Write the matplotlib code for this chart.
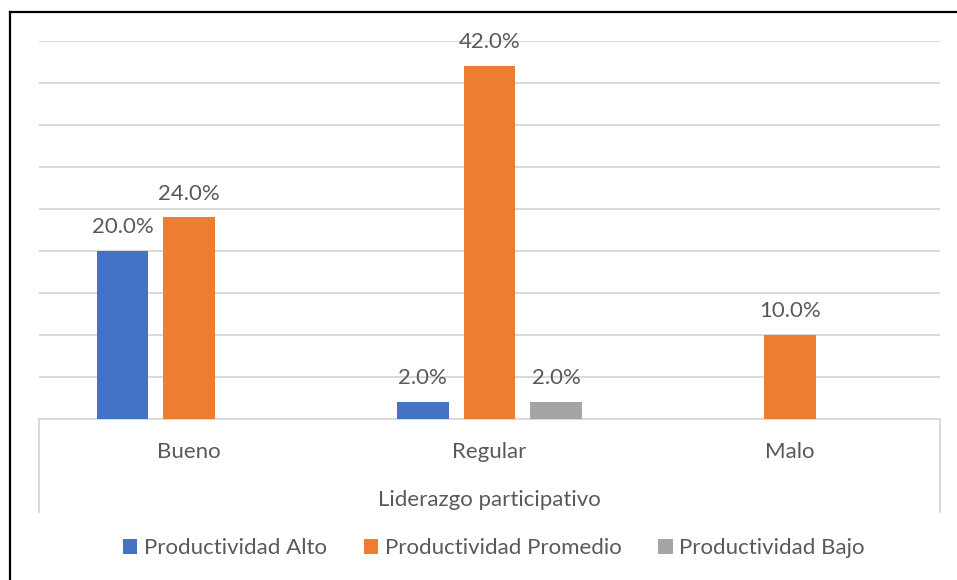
import matplotlib
matplotlib.use("Agg")
import matplotlib.pyplot as plt
from matplotlib.lines import Line2D
from matplotlib.patches import Patch
import numpy as np

plt.rcParams['font.family'] = ['Lato', 'DejaVu Sans']

categories = ['Bueno', 'Regular', 'Malo']
series_names = ['Productividad Alto', 'Productividad Promedio', 'Productividad Bajo']
alto = [20.0, 2.0, 0.0]
promedio = [24.0, 42.0, 10.0]
bajo = [0.0, 2.0, 0.0]
axis_title = 'Liderazgo participativo'

colors = ['#4472C4', '#ED7D31', '#A5A5A5']
text_color = '#595959'
grid_color = '#D9D9D9'
fs = 16

fig = plt.figure(figsize=(9.57, 5.8), dpi=100)
ax = fig.add_axes([39 / 957, 1 - 419 / 580, 901 / 957, 378 / 580])

x = np.arange(len(categories))
width = 0.173
step = 0.222
for i, (vals, col) in enumerate(zip([alto, promedio, bajo], colors)):
    pos = x + (i - 1) * step
    for p, v in zip(pos, vals):
        if v <= 0:
            continue
        ax.bar(p, v, width, color=col, zorder=3)
        ax.annotate(f'{v:.1f}%', (p, v), xytext=(0, 10), textcoords='offset points',
                    ha='center', va='bottom', fontsize=fs, color=text_color)

ax.set_xlim(-0.5, 2.5)
ax.set_ylim(0, 45)
ax.set_yticks(np.arange(5, 50, 5))
ax.yaxis.grid(True, color=grid_color, lw=1.4, zorder=0)
ax.tick_params(left=False, labelleft=False, bottom=False, labelbottom=False)
for s in ['top', 'right', 'left']:
    ax.spines[s].set_visible(False)
ax.spines['bottom'].set_color(grid_color)
ax.spines['bottom'].set_linewidth(1.4)

# category labels and axis title below the plot
for xi, c in zip(x, categories):
    ax.text(xi, -0.088, c, transform=ax.get_xaxis_transform(), ha='center', va='center',
            fontsize=fs, color=text_color)
ax.text(0.5, -0.213, axis_title, transform=ax.transAxes, ha='center', va='center',
        fontsize=fs, color=text_color)

# vertical separators at the ends of the category axis
for xf in [39 / 957, 940 / 957]:
    fig.add_artist(Line2D([xf, xf], [1 - 419 / 580, 1 - 512 / 580], color=grid_color, lw=1.4))

# outer frame (top and left visible)
fig.add_artist(Line2D([9.5 / 957, 1], [1 - 12 / 580, 1 - 12 / 580], color='black', lw=1.6))
fig.add_artist(Line2D([9.5 / 957, 9.5 / 957], [0, 1 - 12 / 580], color='black', lw=1.6))

handles = [Patch(facecolor=c, label=n) for c, n in zip(colors, series_names)]
leg = fig.legend(handles=handles, loc='center', bbox_to_anchor=(0.516, 1 - 548 / 580), ncol=3,
                 frameon=False, fontsize=fs, handlelength=0.65, handleheight=0.65,
                 handletextpad=0.3, columnspacing=1.65)
for t in leg.get_texts():
    t.set_color(text_color)

fig.savefig('out.png', dpi=100)
